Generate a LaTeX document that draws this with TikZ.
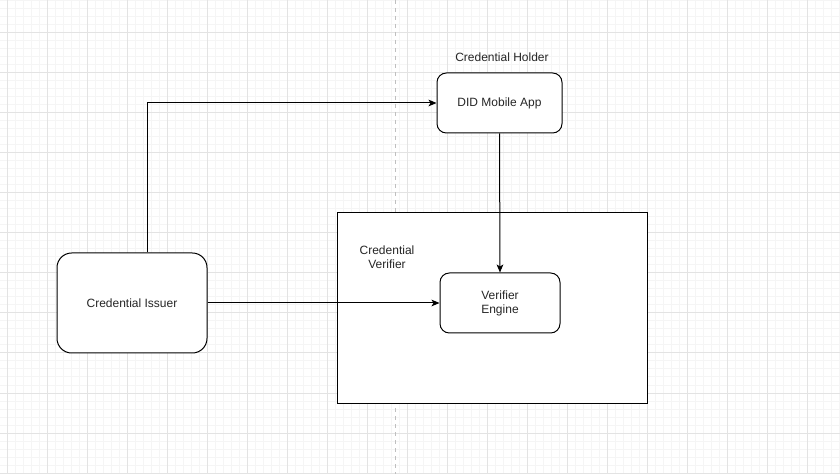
\documentclass[tikz,border=0pt]{standalone}
\usepackage{fontspec}
\setmainfont{Liberation Sans}
\usetikzlibrary{arrows.meta}
\begin{document}
\begin{tikzpicture}[x=0.75pt,y=-0.75pt,
  every node/.style={font=\fontsize{9pt}{10.5pt}\selectfont, text=black!85},
  box/.style={draw=black, line width=0.75pt, fill=white, align=center, inner sep=0pt},
  arr/.style={draw=black, line width=0.75pt, -{Stealth[length=6pt,width=5pt,inset=1.5pt]}},
  minorgrid/.style={draw=black!4, line width=0.75pt},
  majorgrid/.style={draw=black!11, line width=0.75pt}]
\useasboundingbox (0,0) rectangle (840,474);
\fill[white] (0,0) rectangle (840,474);
% minor grid
\foreach \x in {7,15,...,839} \draw[minorgrid] (\x,0) -- (\x,474);
\foreach \y in {1,9,...,473} \draw[minorgrid] (0,\y) -- (840,\y);
% major grid
\foreach \x in {7,47,...,839} \draw[majorgrid] (\x,0) -- (\x,474);
\foreach \y in {33,73,...,473} \draw[majorgrid] (0,\y) -- (840,\y);
% page break line
\draw[draw=black!25, dashed, dash pattern=on 3pt off 3pt, line width=0.75pt] (395,0) -- (395,474);

% container
\node[box, minimum width=232.5pt, minimum height=142.5pt] (verifier) at (492,308) {};
\node[align=center] (verlabel) at (387,257) {Credential\\Verifier};

\node[box, rounded corners=11pt, minimum width=112.5pt, minimum height=75pt] (issuer) at (132,303) {Credential Issuer};
\node[box, rounded corners=7pt, minimum width=93.75pt, minimum height=45pt] (holder) at (499.5,103) {DID Mobile App};
\node (holderlabel) at (502,57) {Credential Holder};
\node[box, rounded corners=7pt, minimum width=90pt, minimum height=45pt] (engine) at (500,303) {Verifier\\Engine};

\draw[arr] ([xshift=11.25pt]issuer.north) |- (holder.west);
\draw[arr] (issuer.east) -- (engine.west);
\draw[arr] (holder.south) -- (engine.north);
\end{tikzpicture}
\end{document}
